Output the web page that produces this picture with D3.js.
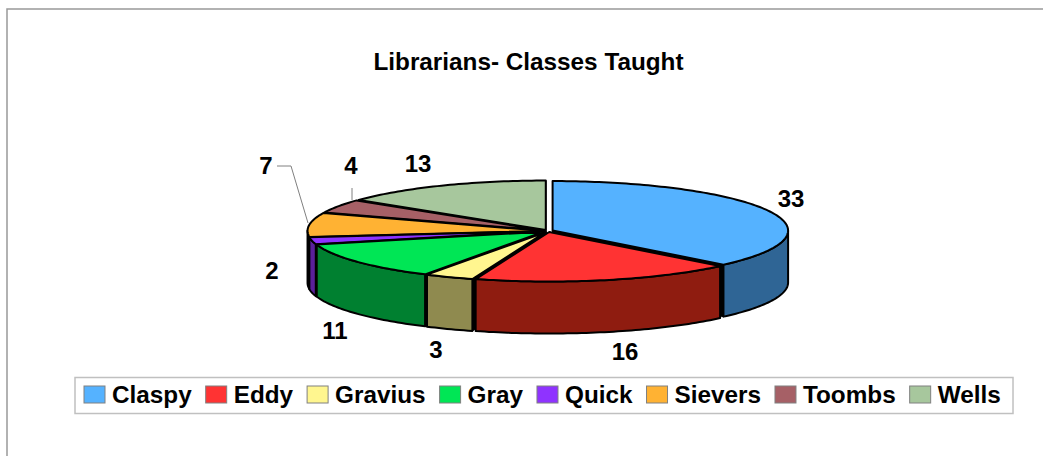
<!DOCTYPE html>
<html>
<head>
<meta charset="utf-8">
<script src="https://cdnjs.cloudflare.com/ajax/libs/d3/7.8.5/d3.min.js"></script>
<style>
html, body { margin: 0; padding: 0; background: #fff; }
svg { display: block; }
text { font-family: "Liberation Sans", Arial, sans-serif; font-weight: bold; fill: #000; }
</style>
</head>
<body>
<div id="chart"></div>
<script>
const w = 1043, h = 456

const names = ['Claspy', 'Eddy', 'Gravius', 'Gray', 'Quick', 'Sievers', 'Toombs', 'Wells']
const counts = [33, 16, 3, 11, 2, 7, 4, 13]
const topColors = ['#55b2ff', '#ff3333', '#fff68f', '#00e655', '#8f33ff', '#ffb233', '#a66066', '#a7c79d']
const sideColors = ['#2f6595', '#8f1c10', '#8f8a4f', '#008030', '#5a209b', '#996b1f', '#63393d', '#64775e']

// pie geometry
const cx = 548, cy = 231, rx = 235.5, ry = 49.5, depth = 52, explode = 5

const svg = d3.select('#chart').append('svg')
    .attr('width', w)
    .attr('height', h)

// outer frame, only top and left show
svg.append('path')
    .attr('d', `M7,${h}V9H${w}`)
    .attr('fill', 'none')
    .attr('stroke', '#999')
    .attr('stroke-width', 1.5)

svg.append('text')
    .text('Librarians- Classes Taught')
    .attr('x', 528.5)
    .attr('y', 70)
    .attr('text-anchor', 'middle')
    .attr('font-size', 24.3)

let slices = d3.pie().sort(null)(counts).map((d, i) => {
    let mid = (d.startAngle + d.endAngle) / 2
    return {
        ...d,
        i,
        mid,
        ox: cx + explode * Math.sin(mid),
        oy: cy - explode * (ry / rx) * Math.cos(mid)
    }
})

let rim = (s, a, dz = 0) => [s.ox + rx * Math.sin(a), s.oy - ry * Math.cos(a) + dz]
let line = d3.line()

let arcPoints = (s, from, to, dz) => {
    let n = Math.max(2, Math.ceil(Math.abs(to - from) / 0.02))
    return d3.range(n + 1).map(k => rim(s, from + (to - from) * k / n, dz))
}

// painter's order, back slices first
let order = slices.slice().sort((a, b) => a.oy - b.oy)
let g = svg.append('g')
    .attr('stroke', '#000')
    .attr('stroke-linejoin', 'round')

order.forEach(s => {
    // radial walls
    ;[s.startAngle, s.endAngle].forEach(a => {
        let p = rim(s, a)
        g.append('path')
            .attr('d', line([[s.ox, s.oy], p, [p[0], p[1] + depth], [s.ox, s.oy + depth]]) + 'Z')
            .attr('fill', '#000')
            .attr('stroke-width', 1)
    })
    // outer wall, front half of the rim only
    let from = Math.max(s.startAngle, Math.PI / 2)
    let to = Math.min(s.endAngle, Math.PI * 1.5)
    if (to > from) {
        let pts = arcPoints(s, from, to, 0).concat(arcPoints(s, to, from, depth))
        g.append('path')
            .attr('d', line(pts) + 'Z')
            .attr('fill', sideColors[s.i])
            .attr('stroke-width', 2)
    }
})

order.forEach(s => {
    let pts = [[s.ox, s.oy]].concat(arcPoints(s, s.startAngle, s.endAngle, 0))
    g.append('path')
        .attr('d', line(pts) + 'Z')
        .attr('fill', topColors[s.i])
        .attr('stroke-width', 2)
})

// leader lines for Sievers and Toombs
svg.append('path')
    .attr('d', 'M277,166H291L308,223M352,188V200')
    .attr('fill', 'none')
    .attr('stroke', '#808080')
    .attr('stroke-width', 1)

// label anchors, placed by hand like the original
const labelX = [791, 625, 436, 335, 272, 266, 351, 418]
const labelY = [207, 360, 358, 339, 279, 174, 174, 172]
svg.selectAll('text.val')
    .data(counts)
    .enter()
    .append('text')
    .attr('class', 'val')
    .text(d => d)
    .attr('x', (d, i) => labelX[i])
    .attr('y', (d, i) => labelY[i])
    .attr('text-anchor', 'middle')
    .attr('font-size', 24)

// legend
svg.append('rect')
    .attr('x', 75)
    .attr('y', 377.5)
    .attr('width', 938)
    .attr('height', 36)
    .attr('fill', '#fff')
    .attr('stroke', '#c0c0c0')
    .attr('stroke-width', 1.5)

let lx = 84
names.forEach((n, i) => {
    svg.append('rect')
        .attr('x', lx)
        .attr('y', 386)
        .attr('width', 21)
        .attr('height', 17)
        .attr('fill', topColors[i])
        .attr('stroke', '#808080')
        .attr('stroke-width', 1)
    let t = svg.append('text')
        .text(n)
        .attr('x', lx + 28)
        .attr('y', 403)
        .attr('font-size', 24.3)
    lx += 28 + t.node().getComputedTextLength() + 14
})
</script>
</body>
</html>
